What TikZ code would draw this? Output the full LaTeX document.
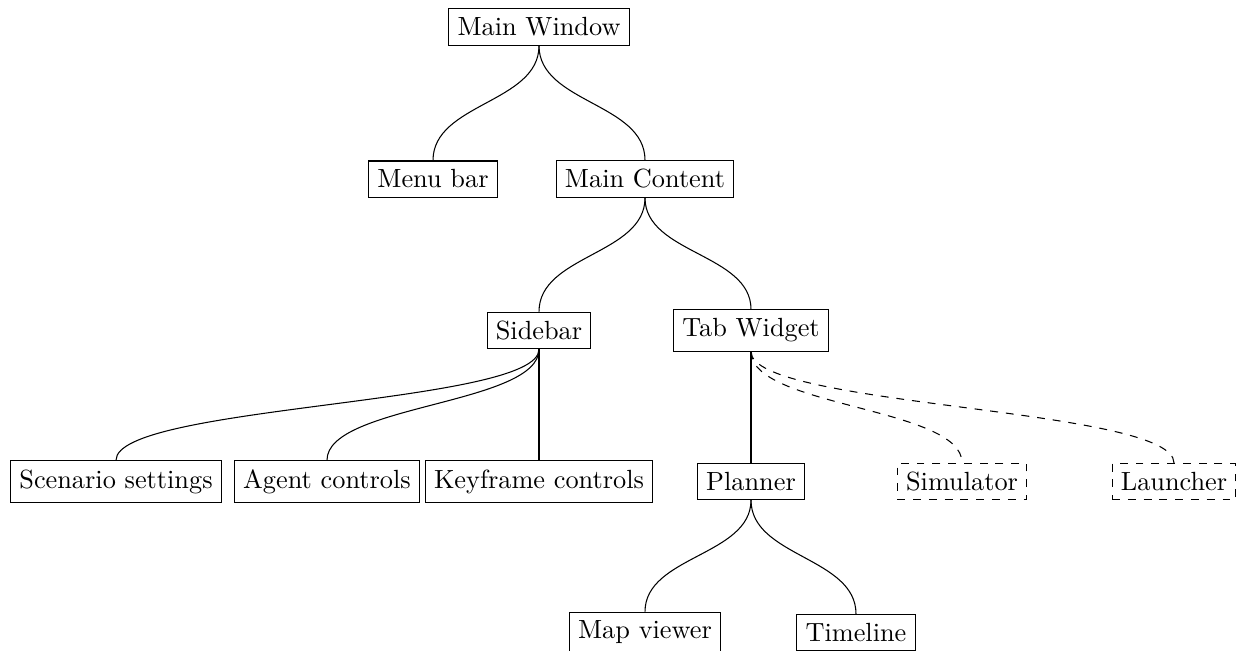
\documentclass[tikz,border=0pt]{standalone}
\usetikzlibrary{calc}
\begin{document}
\begin{tikzpicture}[x=0.3802pt,y=-0.3802pt,
  box/.style={draw,inner sep=3.33pt},
  optbox/.style={box,dashed},
  branch/.style={to path={let \p1=(\tikztostart), \p2=(\tikztotarget) in
     .. controls (\x1,{(\y1+\y2)/2}) and (\x2,{(\y1+\y2)/2}) .. (\tikztotarget)}}]
\useasboundingbox (0,0) rectangle (1240,650);

% level 0
\node[box] (mw) at (539,27) {Main Window};
% level 1
\node[box] (mb) at (433,179) {Menu bar};
\node[box] (mc) at (645,179) {Main Content};
% level 2
\node[box] (sb) at (539,330.5) {Sidebar};
\node[box] (tw) at (751,330.5) {Tab Widget};
% level 3
\node[box] (ss) at (116,481.5) {Scenario settings};
\node[box] (ac) at (327,481.5) {Agent controls};
\node[box] (kc) at (539,481.5) {Keyframe controls};
\node[box] (pl) at (751,481.5) {Planner};
\node[optbox] (si) at (962,481.5) {Simulator};
\node[optbox] (la) at (1174,481.5) {Launcher};
% level 4
\node[box] (mv) at (645,632.5) {Map viewer};
\node[box] (tl) at (856,632.5) {Timeline};

% connectors
\draw (mw.south) to[branch] (mb.north);
\draw (mw.south) to[branch] (mc.north);
\draw (mc.south) to[branch] (sb.north);
\draw (mc.south) to[branch] (tw.north);
\draw (sb.south) to[branch] (ss.north);
\draw (sb.south) to[branch] (ac.north);
\draw (sb.south) to[branch] (kc.north);
\draw (tw.south) to[branch] (pl.north);
\draw[dashed] (tw.south) to[branch] (si.north);
\draw[dashed] (tw.south) to[branch] (la.north);
\draw (pl.south) to[branch] (mv.north);
\draw (pl.south) to[branch] (tl.north);
\end{tikzpicture}
\end{document}
